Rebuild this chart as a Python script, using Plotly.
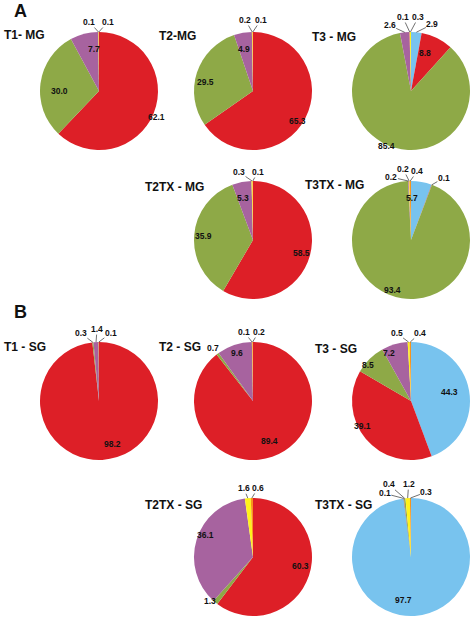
import math
import plotly.graph_objects as go

# ---------------- data (slices listed clockwise from 12 o'clock) ----------------
T1_MG_CATS = ["Red", "Green", "Purple", "Yellow", "Orange"]
T1_MG_VALS = [62.1, 30.0, 7.7, 0.1, 0.1]

T2_MG_CATS = ["Red", "Green", "Purple", "Yellow", "Orange"]
T2_MG_VALS = [65.3, 29.5, 4.9, 0.2, 0.1]

T3_MG_CATS = ["Blue", "Red", "Green", "Purple", "Orange", "Yellow"]
T3_MG_VALS = [2.9, 8.8, 85.4, 2.6, 0.1, 0.3]

T2TX_MG_CATS = ["Red", "Green", "Purple", "Yellow", "Orange"]
T2TX_MG_VALS = [58.5, 35.9, 5.3, 0.3, 0.1]

T3TX_MG_CATS = ["Blue", "Red", "Green", "Purple", "Yellow", "Orange"]
T3TX_MG_VALS = [5.7, 0.1, 93.4, 0.2, 0.2, 0.4]

T1_SG_CATS = ["Red", "Green", "Purple", "Orange"]
T1_SG_VALS = [98.2, 0.3, 1.4, 0.1]

T2_SG_CATS = ["Red", "Green", "Purple", "Yellow", "Orange"]
T2_SG_VALS = [89.4, 0.7, 9.6, 0.1, 0.2]

T3_SG_CATS = ["Blue", "Red", "Green", "Purple", "Yellow", "Orange"]
T3_SG_VALS = [44.3, 39.1, 8.5, 7.2, 0.5, 0.4]

T2TX_SG_CATS = ["Red", "Green", "Purple", "Yellow", "Orange"]
T2TX_SG_VALS = [60.3, 1.3, 36.1, 1.6, 0.6]

T3TX_SG_CATS = ["Blue", "Red", "Green", "Yellow", "Orange"]
T3TX_SG_VALS = [97.7, 0.1, 0.4, 1.2, 0.3]

TITLES = ["T1- MG", "T2-MG", "T3 - MG", "T2TX - MG", "T3TX - MG",
          "T1 - SG", "T2 - SG", "T3 - SG", "T2TX - SG", "T3TX - SG"]
PANEL_LETTERS = ["A", "B"]

# ---------------- styling / layout ----------------
W, H = 472, 619
R = 59
COLORS = {"Blue": "#78C3EE", "Red": "#DD1F27", "Green": "#8EA947",
          "Purple": "#A7639F", "Yellow": "#FFF21A", "Orange": "#F7941D"}

CHARTS = [
    (T1_MG_CATS, T1_MG_VALS), (T2_MG_CATS, T2_MG_VALS), (T3_MG_CATS, T3_MG_VALS),
    (T2TX_MG_CATS, T2TX_MG_VALS), (T3TX_MG_CATS, T3TX_MG_VALS),
    (T1_SG_CATS, T1_SG_VALS), (T2_SG_CATS, T2_SG_VALS), (T3_SG_CATS, T3_SG_VALS),
    (T2TX_SG_CATS, T2TX_SG_VALS), (T3TX_SG_CATS, T3TX_SG_VALS),
]
CENTERS = [(99, 91), (253, 91), (411, 91), (253, 240), (411, 240),
           (99, 401), (253, 401), (411, 401), (253, 557), (411, 557)]
TITLE_POS = [(2, 35), (157, 36), (310, 37), (143, 187), (303, 185),
             (2, 347), (157, 347), (313, 349), (143, 505), (313, 505)]
LETTER_POS = [(12, 11), (12, 312)]

# label placement per slice: "in" = inside, "near" = just outside, (ax, ay) = leader line
LABEL_MODES = [
    ["in", "in", "in", (-9, -10), (9, -10)],
    ["in", "in", "in", (-7, -12), (8, -12)],
    [(16, -8), "in", "in", (-15, -7), (-7, -15), (8, -15)],
    ["in", "in", "in", (-13, -9), (5, -9)],
    ["in", (12, -7), "in", (-17, -4), (-6, -12), (7, -10)],
    ["in", (-12, -9), (1, -13), (12, -9)],
    ["in", "near", "in", (-8, -10), (6, -10)],
    ["in", "in", "in", "in", (-12, -9), (10, -9)],
    ["in", "near", "in", (-4, -10), (6, -10)],
    ["in", (-19, -5), (-16, -14), (1, -14), (16, -6)],
]

FONT = "Arial, Liberation Sans, sans-serif"
LBL_FONT = dict(size=8.5, color="#111", family=FONT)


def to_paper(px, py):
    return px / W, 1 - py / H


fig = go.Figure()
annotations = []

for (cats, vals), (cx, cy), modes in zip(CHARTS, CENTERS, LABEL_MODES):
    fig.add_trace(go.Pie(
        labels=cats, values=vals, sort=False, direction="clockwise", rotation=0,
        textinfo="none", hoverinfo="label+value", showlegend=False,
        marker=dict(colors=[COLORS[c] for c in cats], line=dict(width=0)),
        domain=dict(x=[(cx - R) / W, (cx + R) / W],
                    y=[1 - (cy + R) / H, 1 - (cy - R) / H]),
    ))
    total = sum(vals)
    cum = 0.0
    for v, mode in zip(vals, modes):
        theta = 2 * math.pi * (cum + v / 2) / total
        cum += v
        sx, sy = math.sin(theta), -math.cos(theta)
        txt = f"<b>{v:.1f}</b>"
        if mode == "in":
            x, y = to_paper(cx + 0.85 * R * sx, cy + 0.85 * R * sy)
            annotations.append(dict(x=x, y=y, xref="paper", yref="paper", text=txt,
                                    showarrow=False, font=LBL_FONT))
        elif mode == "near":
            x, y = to_paper(cx + 1.13 * R * sx, cy + 1.13 * R * sy)
            annotations.append(dict(x=x, y=y, xref="paper", yref="paper", text=txt,
                                    showarrow=False, font=LBL_FONT))
        else:
            x, y = to_paper(cx + R * sx, cy + R * sy)
            annotations.append(dict(x=x, y=y, xref="paper", yref="paper", text=txt,
                                    showarrow=True, arrowhead=0, arrowwidth=0.7, arrowcolor="#333",
                                    ax=mode[0], ay=mode[1], standoff=0, borderpad=0,
                                    font=LBL_FONT))

for t, (px, py) in zip(TITLES, TITLE_POS):
    x, y = to_paper(px, py)
    annotations.append(dict(x=x, y=y, xref="paper", yref="paper", text=f"<b>{t}</b>",
                            showarrow=False, xanchor="left", yanchor="middle",
                            font=dict(size=12, color="#111", family=FONT)))

for t, (px, py) in zip(PANEL_LETTERS, LETTER_POS):
    x, y = to_paper(px, py)
    annotations.append(dict(x=x, y=y, xref="paper", yref="paper", text=f"<b>{t}</b>",
                            showarrow=False, xanchor="left", yanchor="middle",
                            font=dict(size=18, color="#111", family=FONT)))

fig.update_layout(width=W, height=H, margin=dict(l=0, r=0, t=0, b=0),
                  paper_bgcolor="white", plot_bgcolor="white",
                  annotations=annotations)

fig.write_html("out.html", config={"displayModeBar": False},
               post_script="document.body.style.margin='0';document.body.style.overflow='hidden';")
